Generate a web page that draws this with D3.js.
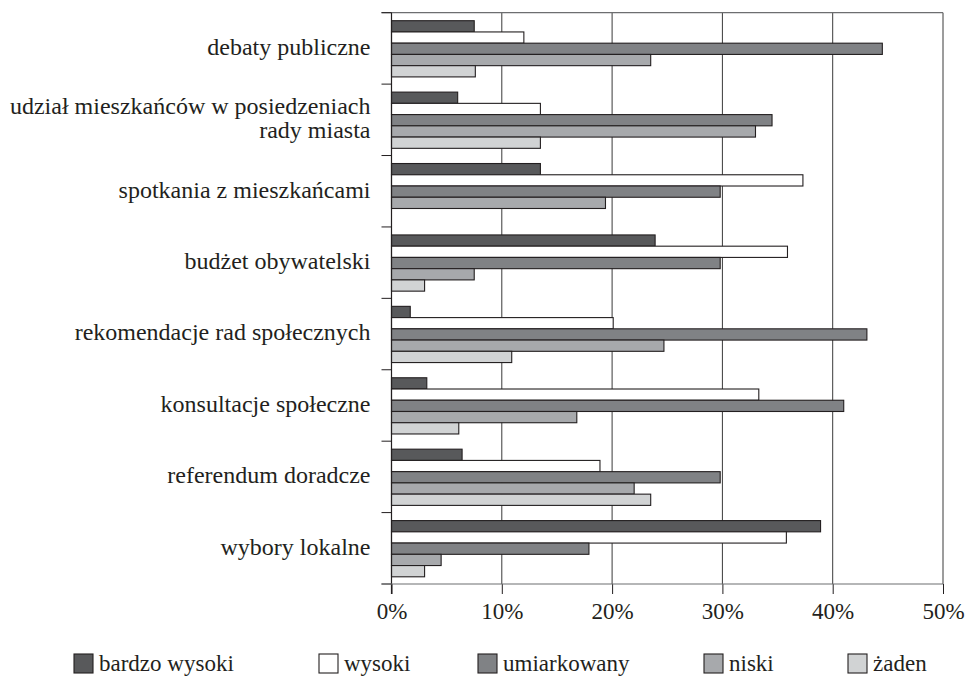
<!DOCTYPE html>
<html>
<head>
<meta charset="utf-8">
<script src="https://cdn.jsdelivr.net/npm/d3@7"></script>
<style>
  html, body { margin: 0; padding: 0; background: #fff; }
  svg { display: block; }
  text { font-family: "Liberation Serif", "Times New Roman", serif; fill: #231f20; }
</style>
</head>
<body>
<svg id="chart" width="972" height="677"></svg>
<script>
const categories = [
  "debaty publiczne",
  "udział mieszkańców w posiedzeniach\nrady miasta",
  "spotkania z mieszkańcami",
  "budżet obywatelski",
  "rekomendacje rad społecznych",
  "konsultacje społeczne",
  "referendum doradcze",
  "wybory lokalne"
];
const seriesNames = ["bardzo wysoki", "wysoki", "umiarkowany", "niski", "żaden"];
const bardzoWysoki = [7.5, 6.0, 13.5, 23.9, 1.7, 3.2, 6.4, 38.9];
const wysoki       = [12.0, 13.5, 37.3, 35.9, 20.1, 33.3, 18.9, 35.8];
const umiarkowany  = [44.5, 34.5, 29.8, 29.8, 43.1, 41.0, 29.8, 17.9];
const niski        = [23.5, 33.0, 19.4, 7.5, 24.7, 16.8, 22.0, 4.5];
const zaden        = [7.6, 13.5, 0, 3.0, 10.9, 6.1, 23.5, 3.0];
const xTicks = [0, 10, 20, 30, 40, 50];
const colors = ["#58595b", "#ffffff", "#808285", "#a7a9ac", "#d1d3d4"];

const seriesValues = [bardzoWysoki, wysoki, umiarkowany, niski, zaden];

const svg = d3.select("#chart");
const margin = { top: 12.7, right: 29, bottom: 93, left: 391.5 };
const W = 972, H = 677;
const innerW = W - margin.left - margin.right;
const innerH = H - margin.top - margin.bottom;

const g = svg.append("g").attr("transform", `translate(${margin.left},${margin.top})`);

const x = d3.scaleLinear().domain([0, 50]).range([0, innerW]);
const y0 = d3.scaleBand().domain(categories).range([0, innerH]).paddingInner(0).paddingOuter(0);
const y1 = d3.scaleBand().domain(seriesNames).range([8, y0.bandwidth() - 7.2]).padding(0);
const color = d3.scaleOrdinal().domain(seriesNames).range(colors);

// gridlines
g.append("g").selectAll("line").data(xTicks.filter(t => t > 0)).join("line")
  .attr("x1", d => x(d)).attr("x2", d => x(d))
  .attr("y1", 0).attr("y2", innerH)
  .attr("stroke", "#3a3a3a").attr("stroke-width", 1);

// top frame line
g.append("line").attr("x1", -10).attr("x2", innerW).attr("y1", 0).attr("y2", 0)
  .attr("stroke", "#6d6e70").attr("stroke-width", 1.2);

// bars
const rows = categories.map((c, i) => ({ cat: c, vals: seriesNames.map((s, j) => ({ s, v: seriesValues[j][i] })) }));
const grp = g.append("g").selectAll("g").data(rows).join("g")
  .attr("transform", d => `translate(0,${y0(d.cat)})`);
grp.selectAll("rect").data(d => d.vals.filter(v => v.v > 0)).join("rect")
  .attr("x", 0)
  .attr("y", d => y1(d.s))
  .attr("width", d => x(d.v))
  .attr("height", y1.bandwidth())
  .attr("fill", d => color(d.s))
  .attr("stroke", "#231f20")
  .attr("stroke-width", 1.1);

// y axis
const yAxis = g.append("g").call(
  d3.axisLeft(y0).tickSize(0).tickFormat("")
);
yAxis.select(".domain").remove();
g.append("line").attr("x1", 0).attr("x2", 0).attr("y1", 0).attr("y2", innerH + 10)
  .attr("stroke", "#231f20").attr("stroke-width", 1.2);
// category boundary ticks
const bounds = categories.map(c => y0(c)).concat([innerH]);
g.append("g").selectAll("line").data(bounds).join("line")
  .attr("x1", -10).attr("x2", 0).attr("y1", d => d).attr("y2", d => d)
  .attr("stroke", "#231f20").attr("stroke-width", 1);

// category labels
const lab = g.append("g").selectAll("text").data(categories).join("text")
  .attr("text-anchor", "end")
  .attr("font-size", 24)
  .attr("transform", d => `translate(-21,${y0(d) + y0.bandwidth() / 2})`);
lab.each(function(d) {
  const lines = d.split("\n");
  const t = d3.select(this);
  const lh = 24.5;
  lines.forEach((ln, k) => {
    t.append("tspan").attr("x", 0)
      .attr("y", (k - (lines.length - 1) / 2) * lh - 2)
      .attr("dy", "0.35em").text(ln);
  });
});

// x axis
const xAxis = g.append("g").attr("transform", `translate(0,${innerH})`)
  .call(d3.axisBottom(x).tickValues(xTicks).tickSize(10).tickPadding(9).tickFormat(d => d + "%"));
xAxis.select(".domain").remove();
xAxis.selectAll(".tick line").attr("stroke", "#231f20").attr("stroke-width", 1);
xAxis.selectAll(".tick text").attr("font-size", 23)
  .attr("font-family", "'Liberation Serif', 'Times New Roman', serif").attr("fill", "#231f20");
g.append("line").attr("x1", -10).attr("x2", innerW).attr("y1", innerH).attr("y2", innerH)
  .attr("stroke", "#6d6e70").attr("stroke-width", 1.2);

// legend
const legendX = [74, 319, 478, 704, 848];
const leg = svg.append("g").selectAll("g").data(seriesNames).join("g")
  .attr("transform", (d, i) => `translate(${legendX[i]},654)`);
leg.append("rect").attr("x", 0).attr("y", 0).attr("width", 19).attr("height", 19)
  .attr("fill", d => color(d)).attr("stroke", "#231f20").attr("stroke-width", 1.1);
leg.append("text").attr("x", 25).attr("y", 9).attr("dy", "0.35em")
  .attr("font-size", 23).text(d => d);
</script>
</body>
</html>
